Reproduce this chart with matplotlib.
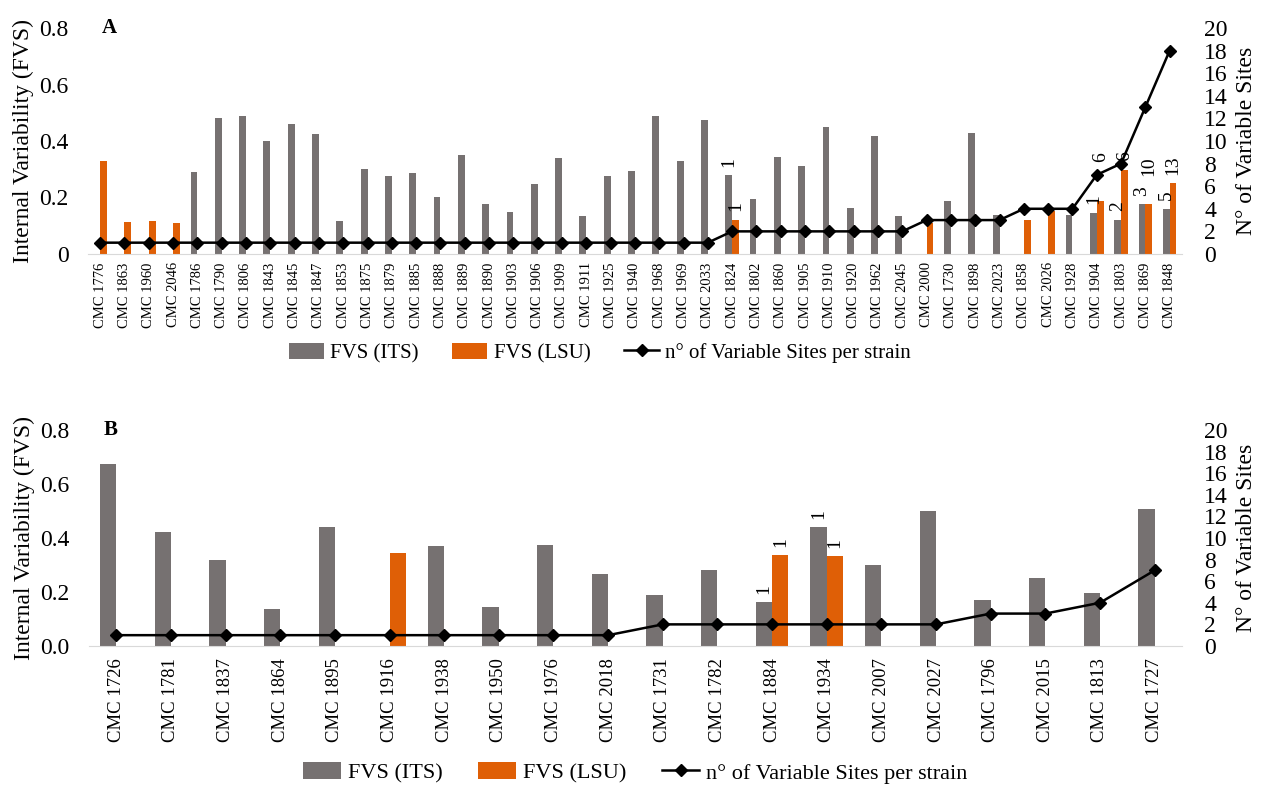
import matplotlib.pyplot as plt
import numpy as np

plt.rcParams["font.family"] = ["Liberation Serif", "DejaVu Serif"]

GRAY = "#767171"
ORANGE = "#DF5F06"

# panel A
strains_a = ["1776", "1863", "1960", "2046", "1786", "1790", "1806", "1843", "1845",
             "1847", "1853", "1875", "1879", "1885", "1888", "1889", "1890", "1903",
             "1906", "1909", "1911", "1925", "1940", "1968", "1969", "2033", "1824",
             "1802", "1860", "1905", "1910", "1920", "1962", "2045", "2000", "1730",
             "1898", "2023", "1858", "2026", "1928", "1904", "1803", "1869", "1848"]
its_a = [0, 0, 0, 0, 0.29, 0.48, 0.49, 0.40, 0.46, 0.425, 0.115, 0.30, 0.275, 0.285,
         0.20, 0.352, 0.177, 0.15, 0.247, 0.34, 0.133, 0.275, 0.293, 0.49, 0.328, 0.473,
         0.278, 0.195, 0.345, 0.313, 0.45, 0.162, 0.418, 0.134, 0, 0.188, 0.43, 0.137,
         0, 0, 0.137, 0.146, 0.122, 0.177, 0.16]
lsu_a = [0.33, 0.114, 0.117, 0.11, 0, 0, 0, 0, 0, 0, 0, 0, 0, 0, 0, 0, 0, 0, 0, 0, 0,
         0, 0, 0, 0, 0, 0.122, 0, 0, 0, 0, 0, 0, 0, 0.11, 0, 0, 0, 0.119, 0.152, 0,
         0.188, 0.298, 0.177, 0.25]
sites_a = [1] * 26 + [2] * 8 + [3] * 4 + [4] * 3 + [7, 8, 13, 18]
its_lab_a = {"1824": 1, "1904": 1, "1803": 2, "1869": 3, "1848": 5}
lsu_lab_a = {"1824": 1, "1904": 6, "1803": 6, "1869": 10, "1848": 13}

# panel B
strains_b = ["1726", "1781", "1837", "1864", "1895", "1916", "1938", "1950", "1976",
             "2018", "1731", "1782", "1884", "1934", "2007", "2027", "1796", "2015",
             "1813", "1727"]
its_b = [0.673, 0.422, 0.32, 0.137, 0.44, 0, 0.37, 0.144, 0.374, 0.268, 0.19, 0.28,
         0.162, 0.44, 0.30, 0.50, 0.169, 0.251, 0.195, 0.508]
lsu_b = [0, 0, 0, 0, 0, 0.346, 0, 0, 0, 0, 0, 0, 0.337, 0.333, 0, 0, 0, 0, 0, 0]
sites_b = [1] * 10 + [2] * 6 + [3, 3, 4, 7]
its_lab_b = {"1884": 1, "1934": 1}
lsu_lab_b = {"1884": 1, "1934": 1}

# extra lift (points) for labels that would collide, like Excel does
lift_a = {"1904": 22, "1869": 14}


def panel(fig, rect, strains, its, lsu, sites, its_lab, lsu_lab, letter,
          width, tick_fs, tick_pad, zero_label, leg_xy, leg_fs, lift):
    ax = fig.add_axes(rect)
    x = np.arange(len(strains))
    b1 = ax.bar(x - width / 2, its, width, color=GRAY, label="FVS (ITS)")
    b2 = ax.bar(x + width / 2, lsu, width, color=ORANGE, label="FVS (LSU)")
    for i, s in enumerate(strains):
        if s in its_lab:
            ax.annotate(str(its_lab[s]), (x[i] - width / 2, its[i]), xytext=(0, 6),
                        textcoords="offset points", rotation=90, ha="center",
                        va="bottom", fontsize=14)
        if s in lsu_lab:
            ax.annotate(str(lsu_lab[s]), (x[i] + width / 2, lsu[i]),
                        xytext=(0, 6 + lift.get(s, 0)),
                        textcoords="offset points", rotation=90, ha="center",
                        va="bottom", fontsize=14)
    ax.set_xlim(-0.5, len(strains) - 0.5)
    ax.set_ylim(0, 0.8)
    ax.set_yticks([0, 0.2, 0.4, 0.6, 0.8])
    ax.set_yticklabels([zero_label, "0.2", "0.4", "0.6", "0.8"], fontsize=17)
    ax.set_xticks(x)
    ax.set_xticklabels(["CMC " + s for s in strains], rotation=90, fontsize=tick_fs)
    ax.tick_params(length=0)
    ax.tick_params(axis="x", pad=tick_pad)
    ax.tick_params(axis="y", pad=14)
    for side in ["top", "left", "right"]:
        ax.spines[side].set_visible(False)
    ax.spines["bottom"].set_color("#d9d9d9")
    ax.set_ylabel("Internal Variability (FVS)", fontsize=17, labelpad=4)

    ax2 = ax.twinx()
    (ln,) = ax2.plot(x, sites, color="black", linewidth=1.8, marker="D",
                     markersize=6, label="n° of Variable Sites per strain")
    ax2.set_ylim(0, 20)
    ax2.set_yticks(range(0, 21, 2))
    ax2.tick_params(length=0, labelsize=17, pad=16)
    for side in ["top", "left", "right", "bottom"]:
        ax2.spines[side].set_visible(False)
    ax2.set_ylabel("N° of Variable Sites", fontsize=17, labelpad=6)

    ax.text(0.013, 1.0, letter, transform=ax.transAxes, fontsize=15,
            fontweight="bold", va="center", ha="left")
    ax.legend([b1, b2, ln], [b1.get_label(), b2.get_label(), ln.get_label()],
              loc="center", bbox_to_anchor=leg_xy, ncol=3, frameon=False,
              fontsize=leg_fs, handlelength=1.7, handleheight=0.8,
              columnspacing=1.6, handletextpad=0.3)
    return ax


fig = plt.figure(figsize=(12.66, 7.87), dpi=100)
panel(fig, [0.0695, 0.6773, 0.864, 0.2871], strains_a, its_a, lsu_a, sites_a,
      its_lab_a, lsu_lab_a, "A", 0.28, 10.5, 6, "0", (0.468, -0.438), 15, lift_a)
panel(fig, [0.0703, 0.1792, 0.8633, 0.2744], strains_b, its_b, lsu_b, sites_b,
      its_lab_b, lsu_lab_b, "B", 0.30, 13.5, 9, "0.0", (0.50, -0.588), 16, {})

fig.savefig("out.png", dpi=100)
